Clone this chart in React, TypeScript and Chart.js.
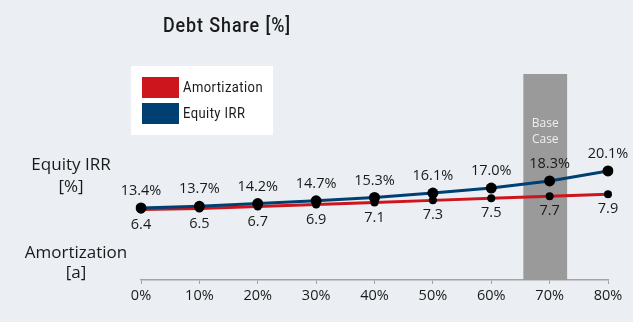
import React, { useEffect, useRef } from "react";
import { Chart, registerables } from "chart.js";

Chart.register(...registerables);

// Debt share steps on the x axis
const categories = ["0%", "10%", "20%", "30%", "40%", "50%", "60%", "70%", "80%"];
// Equity IRR in percent
const equityIrr = [13.4, 13.7, 14.2, 14.7, 15.3, 16.1, 17.0, 18.3, 20.1];
// Amortization period in years
const amortization = [6.4, 6.5, 6.7, 6.9, 7.1, 7.3, 7.5, 7.7, 7.9];
const baseCaseCategory = "70%";

const BG = "#EBEFF3";
const RED = "#CC151C";
const BLUE = "#003F72";
const TEXT = "#1A1A1A";
const BODY_FONT = '"Open Sans", "Noto Sans", sans-serif';
const NARROW_FONT = 'Roboto, "DejaVu Sans", sans-serif';

// Draws text squeezed horizontally so it takes a given width (condensed look)
function fillCondensed(ctx: CanvasRenderingContext2D, text: string, x: number, y: number, squeeze: number) {
  ctx.save();
  ctx.translate(x, y);
  ctx.scale(squeeze, 1);
  ctx.fillText(text, 0, 0);
  ctx.restore();
}

const decorations = {
  id: "decorations",
  beforeDraw(chart: any) {
    const { ctx, width, height } = chart;
    ctx.save();
    ctx.fillStyle = BG;
    ctx.fillRect(0, 0, width, height);
    ctx.restore();
  },
  beforeDatasetsDraw(chart: any) {
    const { ctx, chartArea, scales } = chart;
    const x = scales.x;
    const idx = categories.indexOf(baseCaseCategory);
    const step = x.getPixelForValue(1) - x.getPixelForValue(0);
    const left = x.getPixelForValue(idx) - step * 0.45;
    const right = x.getPixelForValue(idx) + step * 0.3;
    ctx.save();
    ctx.fillStyle = "#9A9A9A";
    ctx.fillRect(left, chartArea.top, right - left, chartArea.bottom - chartArea.top);
    ctx.fillStyle = "#EEEEEE";
    ctx.font = `12px ${BODY_FONT}`;
    ctx.textAlign = "center";
    ctx.textBaseline = "middle";
    const cx = (left + right) / 2;
    ctx.fillText("Base", cx, chartArea.top + 50);
    ctx.fillText("Case", cx, chartArea.top + 66);
    ctx.restore();
  },
  afterDatasetsDraw(chart: any) {
    const { ctx } = chart;
    ctx.save();
    ctx.fillStyle = TEXT;
    ctx.font = `14.5px ${BODY_FONT}`;
    ctx.textAlign = "center";
    ctx.textBaseline = "middle";
    const irrMeta = chart.getDatasetMeta(0);
    irrMeta.data.forEach((pt: any, i: number) => {
      ctx.fillText(equityIrr[i].toFixed(1) + "%", pt.x, pt.y - 17);
    });
    const amMeta = chart.getDatasetMeta(1);
    amMeta.data.forEach((pt: any, i: number) => {
      ctx.fillText(amortization[i].toFixed(1), pt.x, pt.y + 15);
    });

    // axis captions on the left
    ctx.font = `17px ${BODY_FONT}`;
    ctx.fillText("Equity IRR", 71, 165);
    ctx.fillText("[%]", 71, 187);
    ctx.fillText("Amortization", 76, 253);
    ctx.fillText("[a]", 76, 273);

    // title
    ctx.textAlign = "left";
    ctx.textBaseline = "alphabetic";
    ctx.font = `500 20px ${NARROW_FONT}`;
    (ctx as any).letterSpacing = "1px";
    const title = "Debt Share [%]";
    fillCondensed(ctx, title, 163, 31.5, 128 / ctx.measureText(title).width);
    (ctx as any).letterSpacing = "0px";

    // legend box
    ctx.textBaseline = "middle";
    ctx.fillStyle = "#FFFFFF";
    ctx.fillRect(131, 66, 142, 69);
    const entries = [chart.data.datasets[1], chart.data.datasets[0]];
    ctx.font = `15px ${NARROW_FONT}`;
    (ctx as any).letterSpacing = "0.5px";
    const squeeze = 80 / ctx.measureText(entries[0].label).width;
    entries.forEach((ds: any, i: number) => {
      const top = 77 + i * 26;
      ctx.fillStyle = ds.borderColor;
      ctx.fillRect(142, top, 37, 21);
      ctx.fillStyle = TEXT;
      fillCondensed(ctx, ds.label, 183, top + 11, squeeze);
    });
    ctx.restore();
  },
};

export default function App() {
  const ref = useRef<HTMLCanvasElement | null>(null);

  useEffect(() => {
    if (!ref.current) return;
    const chart = new Chart(ref.current, {
      type: "line",
      data: {
        labels: categories,
        datasets: [
          {
            label: "Equity IRR",
            data: equityIrr,
            yAxisID: "yIrr",
            borderColor: BLUE,
            backgroundColor: BLUE,
            borderWidth: 3,
            pointRadius: 5.5,
            pointBackgroundColor: "#000",
            pointBorderColor: "#000",
            pointBorderWidth: 0,
            tension: 0,
          },
          {
            label: "Amortization",
            data: amortization,
            yAxisID: "yAm",
            borderColor: RED,
            backgroundColor: RED,
            borderWidth: 3,
            pointRadius: 4,
            pointBackgroundColor: "#000",
            pointBorderColor: "#000",
            pointBorderWidth: 0,
            tension: 0,
          },
        ],
      },
      options: {
        animation: false,
        responsive: false,
        devicePixelRatio: 1,
        layout: { padding: { left: 141, right: 25, top: 74, bottom: 0 } },
        plugins: {
          legend: { display: false },
          tooltip: { enabled: false },
          title: { display: false },
        },
        scales: {
          x: {
            type: "category",
            offset: false,
            grid: {
              display: true,
              drawOnChartArea: false,
              drawTicks: true,
              tickLength: 4,
              color: "#A3A3A3",
              lineWidth: 1,
            },
            border: { display: true, color: "#A3A3A3", width: 1.5 },
            ticks: {
              color: TEXT,
              font: { family: BODY_FONT, size: 14.5 },
              padding: 3,
              maxRotation: 0,
              autoSkip: false,
            },
            afterFit: (s: any) => {
              s.height = 42;
            },
          },
          yIrr: { display: false, min: 0.36, max: 37.66 },
          yAm: { display: false, min: -0.45, max: 19.6 },
        },
      },
      plugins: [decorations],
    });
    return () => chart.destroy();
  }, []);

  return (
    <div style={{ position: "fixed", left: 0, top: 0, width: 633, height: 322 }}>
      <canvas ref={ref} width={633} height={322} />
    </div>
  );
}
